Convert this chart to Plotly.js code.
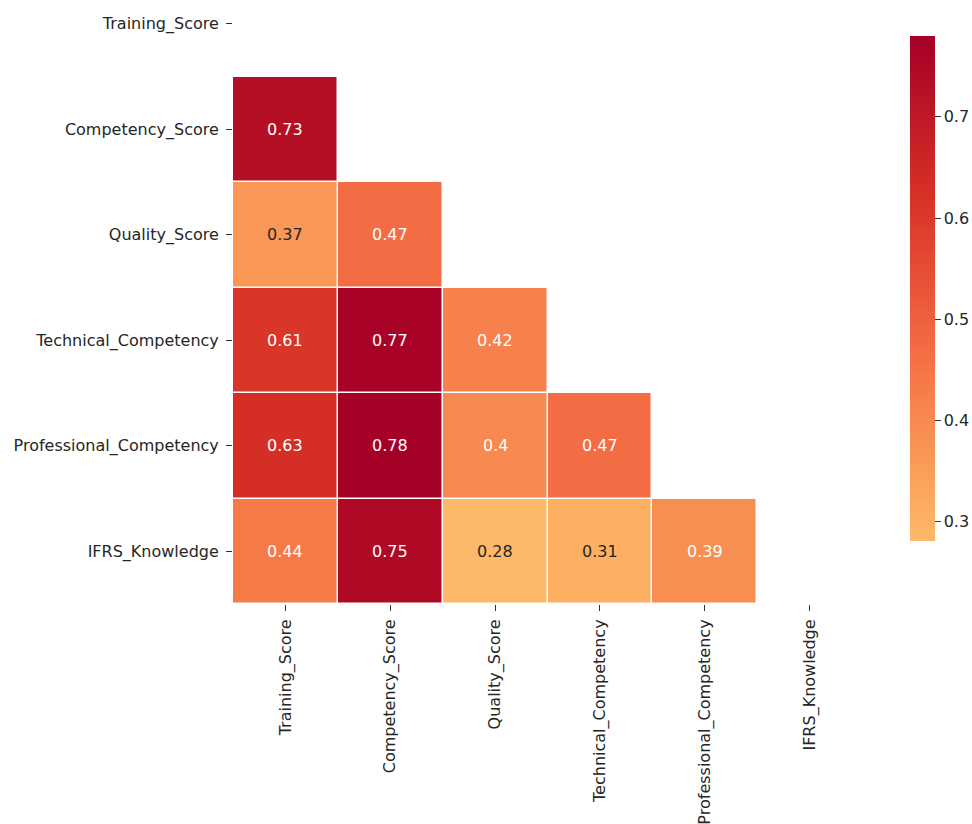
<!DOCTYPE html>
<html>
<head>
<meta charset="utf-8">
<script src="https://cdn.plot.ly/plotly-3.0.1.min.js"></script>
<style>
  html, body { margin: 0; padding: 0; background: #ffffff; }
  #chart { width: 972px; height: 824px; }
</style>
</head>
<body>
<div id="chart"></div>
<script>
// Correlation matrix of training and competency measures (lower triangle only).
const variables = [
  "Training_Score",
  "Competency_Score",
  "Quality_Score",
  "Technical_Competency",
  "Professional_Competency",
  "IFRS_Knowledge"
];

// Row-wise values below the diagonal; the diagonal and upper triangle are masked.
const competencyRow    = [0.73];
const qualityRow       = [0.37, 0.47];
const technicalRow     = [0.61, 0.77, 0.42];
const professionalRow  = [0.63, 0.78, 0.40, 0.47];
const ifrsRow          = [0.44, 0.75, 0.28, 0.31, 0.39];

const lowerRows = [[], competencyRow, qualityRow, technicalRow, professionalRow, ifrsRow];

// Colour range of the colour bar
const colorMin = 0.281;
const colorMax = 0.780;

// Colour bar tick values
const barTicks = [0.3, 0.4, 0.5, 0.6, 0.7];

// Full square matrix with nulls where masked
const zMatrix = variables.map((_, i) =>
  variables.map((_, j) => (j < i ? lowerRows[i][j] : null))
);

// Warm half of a red-yellow-green reversed diverging map centred at zero
const colorscale = [
  [0.0,   "#fdb869"],
  [0.062, "#fdae61"],
  [0.375, "#f46d43"],
  [0.687, "#d73027"],
  [1.0,   "#a50026"]
];

const FONT = "DejaVu Sans";
const FS = 16;

const annotations = [];
zMatrix.forEach((row, i) => {
  row.forEach((v, j) => {
    if (v === null) return;
    annotations.push({
      x: variables[j],
      y: variables[i],
      xref: "x",
      yref: "y",
      text: String(parseFloat(v.toFixed(2))),
      showarrow: false,
      font: { family: FONT, size: FS, color: v < 0.38 ? "#262626" : "#ffffff" }
    });
  });
});

// Plot area spans x 233..862 and y 0..604 px
const plotLeft = 233, plotRight = 862, plotTop = 0, plotBottom = 604;
const plotW = plotRight - plotLeft, plotH = plotBottom - plotTop;

const trace = {
  type: "heatmap",
  x: variables,
  y: variables,
  z: zMatrix,
  zmin: colorMin,
  zmax: colorMax,
  colorscale: colorscale,
  xgap: 1.5,
  ygap: 1.5,
  hoverongaps: false,
  colorbar: {
    xref: "paper",
    yref: "paper",
    x: (910 - plotLeft) / plotW,
    xanchor: "left",
    y: 1 - (288.4 - plotTop) / plotH,
    yanchor: "middle",
    lenmode: "pixels",
    len: 505,
    thicknessmode: "pixels",
    thickness: 25,
    outlinewidth: 0,
    ticks: "outside",
    ticklen: 6,
    tickwidth: 1,
    tickcolor: "#333333",
    tickvals: barTicks,
    ticktext: barTicks.map(v => v.toFixed(1)),
    tickfont: { family: FONT, size: FS, color: "#262626" },
    xpad: 0,
    ypad: 0
  }
};

const layout = {
  width: 972,
  height: 824,
  paper_bgcolor: "#ffffff",
  plot_bgcolor: "#ffffff",
  margin: { l: plotLeft, r: 972 - plotRight, t: plotTop, b: 824 - plotBottom },
  showlegend: false,
  font: { family: FONT, size: FS, color: "#262626" },
  xaxis: {
    type: "category",
    range: [-0.5, 5.5],
    tickangle: -90,
    ticks: "outside",
    ticklen: 6,
    tickwidth: 1,
    tickcolor: "#333333",
    ticklabelstandoff: 2,
    showgrid: false,
    zeroline: false,
    showline: false,
    tickfont: { family: FONT, size: FS, color: "#262626" }
  },
  yaxis: {
    type: "category",
    range: [5.5, -0.225],
    ticks: "outside",
    ticklen: 6,
    tickwidth: 1,
    tickcolor: "#333333",
    ticklabelstandoff: 4,
    showgrid: false,
    zeroline: false,
    showline: false,
    tickfont: { family: FONT, size: FS, color: "#262626" }
  },
  annotations: annotations
};

Plotly.newPlot("chart", [trace], layout, { displayModeBar: false, staticPlot: true });
</script>
</body>
</html>
